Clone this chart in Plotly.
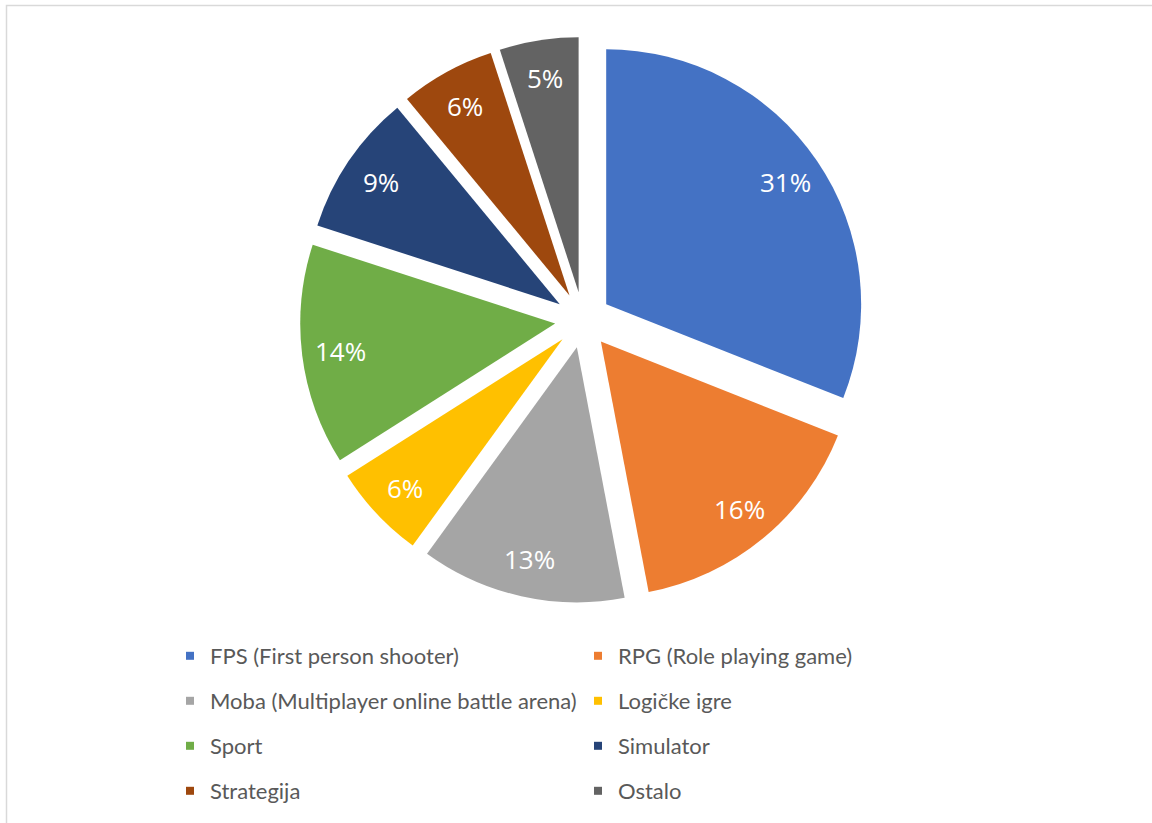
import math
import plotly.graph_objects as go

# Share of players by favourite game genre (percent)
genres = [
    "FPS (First person shooter)",
    "RPG (Role playing game)",
    "Moba (Multiplayer online battle arena)",
    "Logičke igre",
    "Sport",
    "Simulator",
    "Strategija",
    "Ostalo",
]
shares = [31, 16, 13, 6, 14, 9, 6, 5]
colors = ["#4472C4", "#ED7D31", "#A5A5A5", "#FFC000",
          "#70AD47", "#264478", "#9E480E", "#636363"]

W, H = 1152, 823
PULL = 0.11
dom_x = [300 / W, 866 / W]
dom_y = [1 - 603 / H, 1 - 37 / H]

fig = go.Figure()

fig.add_trace(go.Pie(
    labels=genres,
    values=shares,
    sort=False,
    direction="clockwise",
    rotation=0,
    pull=[PULL] * len(shares),
    marker=dict(colors=colors, line=dict(color="white", width=0)),
    textinfo="none",
    hoverinfo="label+percent",
    showlegend=False,
    domain=dict(x=dom_x, y=dom_y),
))

# Percentage labels placed along each slice's bisector, out near the rim
box = min((dom_x[1] - dom_x[0]) * W, (dom_y[1] - dom_y[0]) * H)
radius = box / (2 + 2 * PULL)
cx = (dom_x[0] + dom_x[1]) / 2 * W
cy = (1 - (dom_y[0] + dom_y[1]) / 2) * H
total = sum(shares)
label_r = PULL * radius + 0.85 * radius
annotations = []
cum = 0
for v in shares:
    mid = 2 * math.pi * (cum + v / 2) / total
    cum += v
    px = cx + label_r * math.sin(mid)
    py = cy - label_r * math.cos(mid)
    annotations.append(dict(
        x=px / W, y=1 - py / H, xref="paper", yref="paper",
        text=f"{round(100 * v / total)}%", showarrow=False,
        xanchor="center", yanchor="middle",
        font=dict(family="Open Sans", size=26, color="white"),
    ))

# Legend: two columns, four rows; one legend per row
legend_ids = ["legend", "legend2", "legend3", "legend4"]
for i, (name, col) in enumerate(zip(genres, colors)):
    fig.add_trace(go.Scatter(
        x=[None], y=[None], mode="markers", name=name,
        marker=dict(symbol="square", size=8, color=col, line=dict(width=0)),
        legend=legend_ids[i // 2], hoverinfo="skip",
    ))

row_y = [656, 701, 746, 791]
legend_common = dict(
    orientation="h", xanchor="left", yanchor="middle",
    font=dict(family="Lato", size=22, color="#595959"),
    entrywidth=363, entrywidthmode="pixels",
    bgcolor="rgba(0,0,0,0)", borderwidth=0, traceorder="normal",
)
legends = {}
for k, lid in enumerate(legend_ids):
    legends[lid] = dict(legend_common, x=170 / W, y=1 - row_y[k] / H)

fig.update_layout(
    width=W, height=H,
    margin=dict(l=0, r=0, t=0, b=0),
    paper_bgcolor="white", plot_bgcolor="white",
    xaxis=dict(visible=False), yaxis=dict(visible=False),
    showlegend=True,
    annotations=annotations,
    shapes=[dict(type="rect", xref="paper", yref="paper",
                 x0=6.5 / W, x1=1.02, y0=-0.02, y1=1 - 5.5 / H,
                 line=dict(color="#D9D9D9", width=1.5), layer="below")],
    **legends,
)

fig.write_html("out.html")
